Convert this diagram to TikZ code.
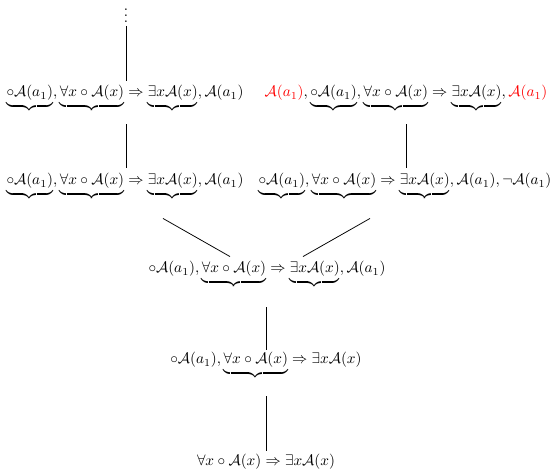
\documentclass[tikz,border=0pt]{standalone}
\usepackage{amsmath,amssymb}
\usetikzlibrary{calc}
\newcommand{\A}{\mathcal{A}}
\newcommand{\ub}[1]{\underbrace{#1}_{}}
\begin{document}
\begin{tikzpicture}[x=0.656pt,y=-0.656pt]
\tikzset{
  seq/.style={anchor=base,inner sep=0pt,outer sep=0pt},
  rule/.style={line width=0.5pt}
}
\useasboundingbox (0,0) rectangle (553,471);

% sequents of the derivation, from the top down
\node[seq] (dots) at (126,23) {$\vdots$};
\node[seq] (l1) at (125,97)
  {$\ub{\circ\A(a_1)},\ub{\forall x\circ\A(x)}\Rightarrow\ub{\exists x\A(x)},\A(a_1)$};
\node[seq] (r1) at (406,97)
  {$\textcolor{red}{\A(a_1)},\ub{\circ\A(a_1)},\ub{\forall x\circ\A(x)}\Rightarrow\ub{\exists x\A(x)},\textcolor{red}{\A(a_1)}$};
\node[seq] (l2) at (125,185)
  {$\ub{\circ\A(a_1)},\ub{\forall x\circ\A(x)}\Rightarrow\ub{\exists x\A(x)},\A(a_1)$};
\node[seq] (r2) at (405,185)
  {$\ub{\circ\A(a_1)},\ub{\forall x\circ\A(x)}\Rightarrow\ub{\exists x\A(x)},\A(a_1),\neg\A(a_1)$};
\node[seq] (m3) at (267,273)
  {$\circ\A(a_1),\ub{\forall x\circ\A(x)}\Rightarrow\ub{\exists x\A(x)},\A(a_1)$};
\node[seq] (m4) at (266,364)
  {$\circ\A(a_1),\ub{\forall x\circ\A(x)}\Rightarrow\exists x\A(x)$};
\node[seq] (m5) at (266,466)
  {$\forall x\circ\A(x)\Rightarrow\exists x\A(x)$};

% inference lines
\draw[rule] ($(dots.south)+(0,3)$) -- ($(dots.south |- l1.north)+(0,-5)$);
\draw[rule] ($(l1.south)+(1,2)$) -- ($(l1.south |- l2.north)+(1,-6)$);
\draw[rule] ($(r1.south)+(0,2)$) -- ($(r1.south |- r2.north)+(0,-6)$);
\draw[rule] ($(l2.south)+(38,8)$) -- ($(m3.north)+(-37,-5)$);
\draw[rule] ($(r2.south)+(-35,8)$) -- ($(m3.north)+(36,-5)$);
\draw[rule] ($(m3.south)+(-1,9)$) -- ($(m3.south |- m4.north)+(-1,-3)$);
\draw[rule] ($(m4.south)+(0,7)$) -- ($(m4.south |- m5.north)+(0,-4)$);
\end{tikzpicture}
\end{document}
